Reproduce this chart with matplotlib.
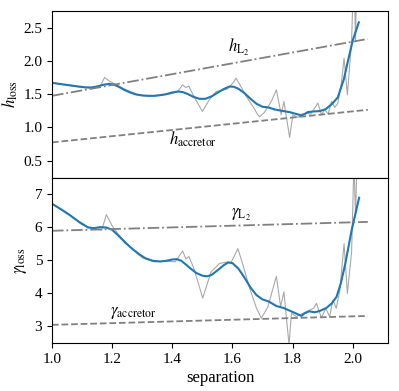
import numpy as np
import matplotlib
matplotlib.use('Agg')
import matplotlib.pyplot as plt

plt.rcParams['font.family'] = ['Liberation Serif', 'DejaVu Serif']
plt.rcParams['mathtext.fontset'] = 'stix'
plt.rcParams['font.size'] = 11

# raw (noisy) h_loss
h_raw_x = [1.00, 1.05, 1.10, 1.14, 1.16, 1.175, 1.19, 1.21, 1.24, 1.28, 1.32, 1.36, 1.40, 1.42,
           1.434, 1.445, 1.455, 1.468, 1.485, 1.50, 1.523, 1.546, 1.57, 1.584, 1.60, 1.612, 1.63,
           1.646, 1.67, 1.684, 1.69, 1.705, 1.718, 1.73, 1.746, 1.762, 1.771, 1.79, 1.801, 1.818,
           1.83, 1.846, 1.86, 1.873, 1.884, 1.896, 1.907, 1.918, 1.929, 1.94, 1.95, 1.962, 1.971,
           1.982, 1.996, 2.004, 2.009, 2.014]
h_raw = [1.67, 1.635, 1.60, 1.59, 1.62, 1.75, 1.70, 1.65, 1.58, 1.50, 1.47, 1.48, 1.51, 1.55,
         1.64, 1.60, 1.62, 1.50, 1.36, 1.24, 1.415, 1.54, 1.56, 1.58, 1.66, 1.74, 1.60,
         1.465, 1.30, 1.19, 1.16, 1.22, 1.31, 1.40, 1.565, 1.19, 1.39, 0.85, 1.19, 1.15,
         1.20, 1.215, 1.20, 1.29, 1.365, 1.19, 1.27, 1.20, 1.39, 1.30, 1.36, 1.665, 2.04,
         1.49, 2.29, 3.5, 2.29, 3.5]

# smoothed h_loss
h_sm_x = [1.00, 1.04, 1.08, 1.11, 1.13, 1.15, 1.17, 1.19, 1.205, 1.22, 1.24, 1.26, 1.28, 1.30,
          1.32, 1.34, 1.36, 1.38, 1.40, 1.42, 1.435, 1.45, 1.47, 1.49, 1.51, 1.53, 1.55, 1.57,
          1.59, 1.605, 1.62, 1.64, 1.66, 1.68, 1.70, 1.72, 1.74, 1.77, 1.79, 1.81, 1.83, 1.84,
          1.85, 1.87, 1.89, 1.91, 1.93, 1.95, 1.97, 1.985, 2.00, 2.02]
h_sm = [1.67, 1.645, 1.62, 1.603, 1.60, 1.615, 1.64, 1.655, 1.645, 1.615, 1.565, 1.525, 1.495, 1.48,
        1.475, 1.475, 1.485, 1.50, 1.525, 1.54, 1.53, 1.505, 1.46, 1.43, 1.43, 1.465, 1.52, 1.575,
        1.615, 1.61, 1.58, 1.515, 1.43, 1.355, 1.31, 1.30, 1.27, 1.245, 1.23, 1.205, 1.18, 1.20,
        1.23, 1.24, 1.245, 1.275, 1.35, 1.45, 1.72, 2.02, 2.31, 2.58]

# raw (noisy) gamma_loss
g_raw_x = [1.00, 1.05, 1.10, 1.14, 1.165, 1.181, 1.20, 1.22, 1.26, 1.30, 1.34, 1.38, 1.41, 1.434,
           1.445, 1.455, 1.47, 1.485, 1.501, 1.529, 1.557, 1.58, 1.596, 1.618, 1.637, 1.657,
           1.68, 1.696, 1.718, 1.73, 1.746, 1.76, 1.771, 1.788, 1.796, 1.812, 1.834, 1.857,
           1.87, 1.879, 1.896, 1.91, 1.923, 1.934, 1.945, 1.957, 1.971, 1.982, 1.996, 2.004,
           2.009, 2.014]
g_raw = [6.72, 6.45, 6.08, 5.96, 5.92, 6.39, 6.05, 5.80, 5.40, 5.08, 4.96, 4.98, 4.96, 5.29,
         5.05, 5.12, 4.80, 4.36, 3.86, 4.66, 4.91, 4.95, 4.95, 5.36, 4.80, 4.16,
         3.55, 3.25, 3.60, 4.00, 4.52, 3.60, 4.05, 2.45, 3.40, 3.30, 3.40, 3.50,
         3.55, 3.70, 3.26, 3.55, 3.30, 3.80, 3.55, 4.10, 5.51, 4.00, 5.26, 8.0,
         6.32, 8.0]

# smoothed gamma_loss
g_sm_x = [1.00, 1.03, 1.06, 1.09, 1.12, 1.14, 1.16, 1.18, 1.20, 1.22, 1.245, 1.27, 1.29, 1.31,
          1.335, 1.36, 1.38, 1.40, 1.415, 1.43, 1.445, 1.46, 1.48, 1.50, 1.515, 1.53, 1.55,
          1.57, 1.585, 1.60, 1.62, 1.64, 1.66, 1.68, 1.70, 1.72, 1.746, 1.77, 1.79, 1.81,
          1.829, 1.84, 1.855, 1.873, 1.89, 1.912, 1.93, 1.946, 1.96, 1.975, 1.996, 2.021]
g_sm = [6.72, 6.55, 6.37, 6.17, 6.0, 5.98, 6.01, 6.0, 5.93, 5.76, 5.53, 5.33, 5.19, 5.07,
        4.99, 4.97, 4.99, 5.03, 5.04, 4.99, 4.88, 4.76, 4.62, 4.54, 4.52, 4.56, 4.70,
        4.85, 4.94, 4.92, 4.75, 4.48, 4.18, 3.95, 3.82, 3.76, 3.62, 3.56, 3.48, 3.40,
        3.32, 3.40, 3.46, 3.43, 3.47, 3.56, 3.70, 3.90, 4.30, 4.90, 5.91, 6.9]

# reference lines (end points)
ref_x = [1.0, 2.05]
h_L2 = [1.475, 2.33]
h_acc = [0.775, 1.265]
g_L2 = [5.9, 6.17]
g_acc = [3.05, 3.32]

blue = '#1f77b4'
raw_c = '#a8a8a8'
ref_c = '#808080'

fig = plt.figure(figsize=(3.99, 3.91), dpi=100)
ax1 = fig.add_axes([0.1303, 0.5448, 0.8421, 0.4271])
ax2 = fig.add_axes([0.1303, 0.1228, 0.8421, 0.4220], sharex=ax1)

ax1.plot(h_raw_x, h_raw, color=raw_c, lw=0.8)
ax1.plot(h_sm_x, h_sm, color=blue, lw=1.5)
ax1.plot(ref_x, h_L2, color=ref_c, lw=1.3, ls='-.')
ax1.plot(ref_x, h_acc, color=ref_c, lw=1.3, ls='--')
ax1.text(1.62, 2.2, r'$h_{\rm L_2}$', ha='center', va='center', fontsize=12)
ax1.text(1.47, 0.82, r'$h_{\rm accretor}$', ha='center', va='center', fontsize=12)
ax1.set_ylim(0.24, 2.75)
ax1.set_yticks([0.5, 1.0, 1.5, 2.0, 2.5])
ax1.set_ylabel(r'$h_{\rm loss}$', labelpad=2, fontsize=12)
ax1.tick_params(labelbottom=False, bottom=False)

ax2.plot(g_raw_x, g_raw, color=raw_c, lw=0.8)
ax2.plot(g_sm_x, g_sm, color=blue, lw=1.5)
ax2.plot(ref_x, g_L2, color=ref_c, lw=1.3, ls='-.')
ax2.plot(ref_x, g_acc, color=ref_c, lw=1.3, ls='--')
ax2.text(1.63, 6.37, r'$\gamma_{\rm L_2}$', ha='center', va='center', fontsize=12)
ax2.text(1.27, 3.42, r'$\gamma_{\rm accretor}$', ha='center', va='center', fontsize=12)
ax2.set_ylim(2.5, 7.5)
ax2.set_yticks([3, 4, 5, 6, 7])
ax2.set_ylabel(r'$\gamma_{\rm loss}$', labelpad=4, fontsize=12)
ax2.set_xlim(1.0, 2.117)
ax2.set_xticks([1.0, 1.2, 1.4, 1.6, 1.8, 2.0])
ax2.set_xlabel('separation', labelpad=3, fontsize=12)

plt.savefig('out.png', dpi=100)
